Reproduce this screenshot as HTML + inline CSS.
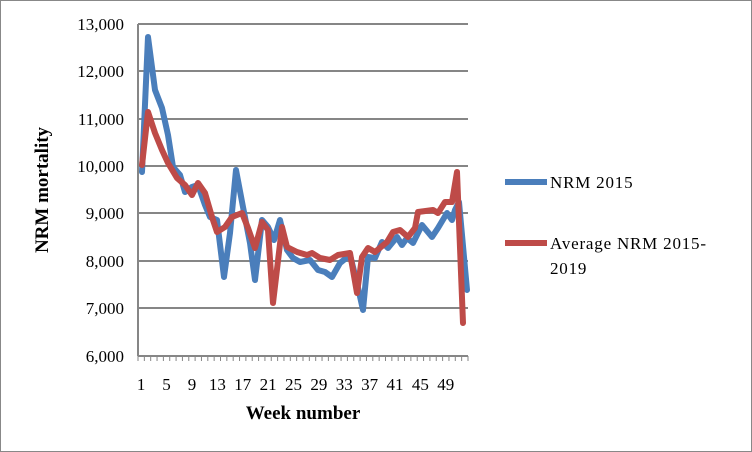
<!DOCTYPE html>
<html><head><meta charset="utf-8"><style>
body{margin:0;background:#fff}
svg{display:block;font-family:"Liberation Serif",serif}
</style></head><body>
<svg width="752" height="452" viewBox="0 0 752 452" xmlns="http://www.w3.org/2000/svg">
<rect x="0.5" y="0.5" width="751" height="451" fill="#fff" stroke="#888"/>
<g stroke="#868686" stroke-width="2">
<line x1="138" y1="24" x2="468" y2="24"/>
<line x1="138" y1="71" x2="468" y2="71"/>
<line x1="138" y1="119" x2="468" y2="119"/>
<line x1="138" y1="166" x2="468" y2="166"/>
<line x1="138" y1="213" x2="468" y2="213"/>
<line x1="138" y1="261" x2="468" y2="261"/>
<line x1="138" y1="308" x2="468" y2="308"/>
<line x1="138" y1="356" x2="468" y2="356"/>
<line x1="138" y1="24" x2="138" y2="356"/>
</g>
<g stroke="#868686" stroke-width="1" id="ticks"></g>
<g font-size="17" text-anchor="end" fill="#000">
<text x="124" y="30">13,000</text>
<text x="124" y="77">12,000</text>
<text x="124" y="125">11,000</text>
<text x="124" y="172">10,000</text>
<text x="124" y="219">9,000</text>
<text x="124" y="267">8,000</text>
<text x="124" y="314">7,000</text>
<text x="124" y="362">6,000</text>
</g>
<g font-size="17" text-anchor="middle" id="xl"></g>
<text x="303" y="419" font-size="19" font-weight="bold" text-anchor="middle">Week number</text>
<text transform="translate(48,190) rotate(-90)" font-size="19" font-weight="bold" text-anchor="middle">NRM mortality</text>
<g fill="none" stroke-width="6" stroke-linejoin="round" stroke-linecap="round">
<polyline stroke="#4a7ebb" points="142,172 148,37 155,90 162,108 168,135 173,167 180,175 185,192 192,187 198,185 205,205 210,217 217,220 224,277 230,233 236,170 243,207 250,243 255,280 262,220 268,227 274,240 280,220 287,250 293,258 300,262 310,260 318,270 325,272 332,277 340,263 350,255 357,283 363,310 368,257 375,258 382,242 388,248 397,237 402,245 407,238 413,243 422,225 432,237 438,228 447,213 452,220 455,210 459,202 467,290"/>
<polyline stroke="#be4b48" points="142,165 148,112 155,133 162,150 168,163 177,178 185,185 192,195 198,183 205,193 212,217 217,232 225,227 232,217 242,213 248,228 255,248 262,222 268,230 273,303 282,227 287,247 297,252 307,255 312,253 320,258 330,260 338,255 350,253 357,293 362,257 368,248 375,252 387,242 393,232 400,230 408,237 415,228 418,212 433,210 438,213 445,202 452,202 457,172 463,323"/>
</g>
<line x1="505" y1="182" x2="547" y2="182" stroke="#4a7ebb" stroke-width="6"/>
<text x="550" y="188" font-size="17" letter-spacing="0.8">NRM 2015</text>
<line x1="505" y1="243" x2="547" y2="243" stroke="#be4b48" stroke-width="6"/>
<text x="550" y="249" font-size="17" letter-spacing="0.8">Average NRM 2015-</text>
<text x="550" y="274" font-size="17" letter-spacing="0.8">2019</text>
<script>
var t=document.getElementById('ticks'),xl=document.getElementById('xl'),ns='http://www.w3.org/2000/svg';
for(var i=0;i<=52;i++){var x=138+i*6.346;var l=document.createElementNS(ns,'line');l.setAttribute('x1',x);l.setAttribute('x2',x);l.setAttribute('y1',356);l.setAttribute('y2',361);t.appendChild(l);}
for(var w=1;w<=49;w+=4){var x=138+(w-0.5)*6.346;var e=document.createElementNS(ns,'text');e.setAttribute('x',x);e.setAttribute('y',390);e.textContent=w;xl.appendChild(e);}
</script>
</svg>
</body></html>
